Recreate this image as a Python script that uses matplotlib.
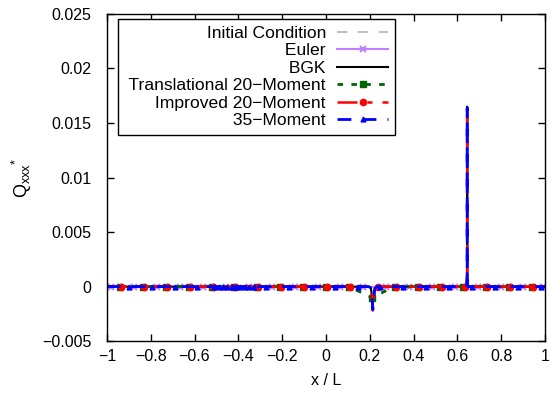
import numpy as np
import matplotlib
matplotlib.use('Agg')
import matplotlib.pyplot as plt

plt.rcParams['font.family'] = ['Liberation Sans', 'DejaVu Sans']
plt.rcParams['font.size'] = 11.5
plt.rcParams['axes.unicode_minus'] = True

# marker positions (x / L)
mark_euler = [-0.979, -0.874, -0.770, -0.665, -0.561, -0.456, -0.352, -0.247, -0.143,
              -0.038, 0.066, 0.171, 0.275, 0.380, 0.484, 0.589, 0.693, 0.798, 0.902, 0.990]
mark_t20 = [-0.940, -0.836, -0.731, -0.627, -0.522, -0.418, -0.313, -0.209, -0.104,
            0.001, 0.105, 0.210, 0.314, 0.419, 0.523, 0.628, 0.732, 0.837, 0.941]
mark_t20_q = [0, 0, 0, 0, 0, 0, 0, 0, 0, 0, 0, -0.0010, 0, 0, 0, 0, 0, 0, 0]
mark_i20 = [-0.935, -0.831, -0.726, -0.622, -0.517, -0.413, -0.308, -0.204, -0.099,
            0.006, 0.110, 0.236, 0.319, 0.424, 0.528, 0.633, 0.737, 0.842, 0.946]
mark_m35 = [-0.900, -0.796, -0.691, -0.587, -0.510, -0.490, -0.470, -0.450, -0.430,
            -0.410, -0.390, -0.370, -0.350, -0.330, -0.273, -0.169, -0.064, 0.040,
            0.145, 0.249, 0.354, 0.458, 0.563, 0.667, 0.772, 0.876, 0.980]

# features of Q_xxx*: dip near x=0.21 and spike near x=0.645
dip_x = [0.195, 0.205, 0.210, 0.214, 0.218, 0.223, 0.232]
dip_bgk = [0.0, -0.0001, -0.0008, -0.0016, -0.0009, -0.0002, 0.0]
dip_i20 = [0.0, -0.0001, -0.0010, -0.0022, -0.0012, -0.0002, 0.0]
dip_m35 = [0.0, -0.0001, -0.0009, -0.0021, -0.0011, -0.0002, 0.0]
spike_x = [0.642, 0.6448, 0.645, 0.6452, 0.648]
spike_bgk = [0.0, 0.0010, 0.0165, 0.0008, 0.0]
spike_i20 = [0.0, 0.0010, 0.0165, 0.0008, 0.0]
spike_m35 = [0.0, 0.0010, 0.0164, 0.0008, 0.0]


def series(marks, mark_q=None, fx=(), fq=()):
    if mark_q is None:
        mark_q = [0.0] * len(marks)
    x = np.concatenate([[-1.0], marks, fx, [1.0]])
    q = np.concatenate([[0.0], mark_q, fq, [0.0]])
    tag = np.concatenate([[0], np.ones(len(marks)), np.zeros(len(fx)), [0]])
    order = np.argsort(x, kind='stable')
    x, q, tag = x[order], q[order], tag[order]
    return x, q, list(np.nonzero(tag)[0])


fig = plt.figure(figsize=(5.51, 3.99), dpi=100)
ax = fig.add_axes([0.194, 0.145, 0.795, 0.820])

ax.plot([-1, 1], [0, 0], color='#c0c0c0', lw=1.5, ls=(0, (5, 5)), label=' Initial Condition')

x, q, me = series(mark_euler)
ax.plot(x, q, color='#bf80ff', lw=1.5, marker='x', ms=4.5, mew=1.5, markevery=me, label=' Euler')

x, q, me = series([], None, dip_x + spike_x, dip_bgk + spike_bgk)
ax.plot(x, q, color='black', lw=1.5, label=' BGK')

x, q, me = series(mark_t20, mark_t20_q)
ax.plot(x, q, color='#006400', lw=2, ls=(0, (2, 3)), marker='s', ms=5, markevery=me,
        label=' Translational 20\u2212Moment')

x, q, me = series(mark_i20, None, dip_x + spike_x, dip_i20 + spike_i20)
ax.plot(x, q, color='red', lw=1.8, ls=(0, (8, 4, 2, 4)), marker='o', ms=4.5, markevery=me,
        label=' Improved 20\u2212Moment')

x, q, me = series(mark_m35, None, dip_x + spike_x, dip_m35 + spike_m35)
ax.plot(x, q, color='blue', lw=2, ls=(0, (5, 4)), marker='^', ms=3.5, markevery=me,
        label=' 35\u2212Moment')

ax.set_xlim(-1, 1)
ax.set_ylim(-0.005, 0.025)
ax.set_xticks(np.arange(-1, 1.01, 0.2))
ax.set_yticks([-0.005, 0, 0.005, 0.01, 0.015, 0.02, 0.025])
ax.set_xticklabels(['\u22121', '\u22120.8', '\u22120.6', '\u22120.4', '\u22120.2', '0',
                    '0.2', '0.4', '0.6', '0.8', '1'])
ax.set_yticklabels(['\u22120.005', '0', '0.005', '0.01', '0.015', '0.02', '0.025'])
ax.tick_params(direction='in', top=True, right=True, length=5, width=1)
ax.tick_params(axis='y', pad=11)
ax.tick_params(axis='x', pad=6)
for s in ax.spines.values():
    s.set_linewidth(1)
ax.set_xlabel('x / L', labelpad=6)
ax.set_ylabel(r'$\mathregular{Q_{xxx}{}^{*}}$', labelpad=6, fontsize=13)

leg = ax.legend(loc='upper left', bbox_to_anchor=(0.025, 0.985), borderaxespad=0,
                markerfirst=False, fancybox=False, framealpha=1, edgecolor='black',
                handlelength=2.9, labelspacing=0.13, borderpad=0.38, handletextpad=0.65,
                fontsize=12.6)
leg.get_frame().set_linewidth(1)

fig.savefig('out.png', dpi=100)
